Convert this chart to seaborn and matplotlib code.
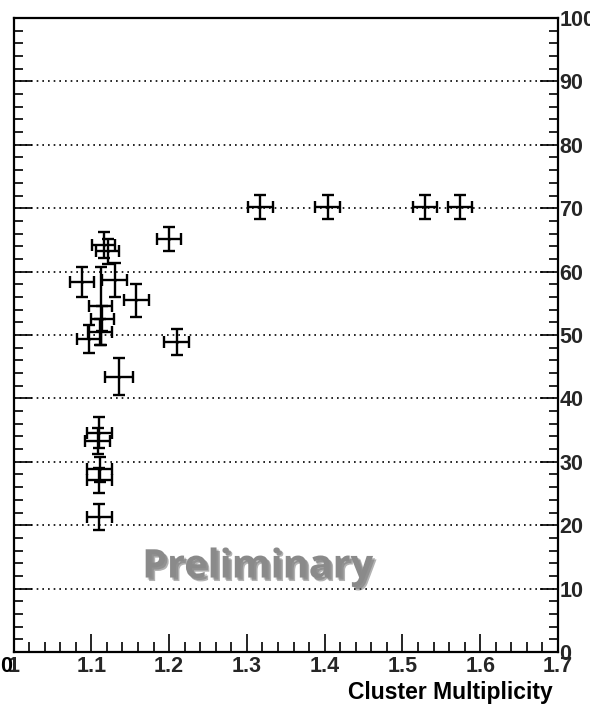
import matplotlib
matplotlib.use("Agg")
import numpy as np
import pandas as pd
import seaborn as sns
import matplotlib.pyplot as plt
import matplotlib.patheffects as pe
from matplotlib.ticker import MultipleLocator, FixedLocator, FixedFormatter

# Measured points: cluster multiplicity vs. value, with symmetric errors
multiplicity = [1.317, 1.404, 1.529, 1.574, 1.200, 1.116, 1.121, 1.088, 1.130,
                1.158, 1.114, 1.112, 1.111, 1.097, 1.210, 1.136, 1.110, 1.108,
                1.111, 1.110, 1.110]
multiplicity_err = [0.016, 0.016, 0.016, 0.016, 0.015, 0.015, 0.015, 0.015, 0.016,
                    0.016, 0.015, 0.015, 0.015, 0.015, 0.016, 0.018, 0.016, 0.016,
                    0.016, 0.016, 0.016]
value = [70.2, 70.2, 70.2, 70.2, 65.1, 64.2, 63.2, 58.4, 58.7,
         55.5, 52.6, 54.6, 50.5, 49.4, 48.9, 43.4, 34.6, 33.3,
         28.8, 27.1, 21.3]
value_err = [1.9, 1.9, 1.9, 1.9, 1.9, 2.0, 2.0, 2.4, 2.7,
             2.6, 2.0, 6.1, 2.0, 2.2, 2.0, 2.9, 2.5, 2.0,
             2.0, 2.0, 2.0]

x_ticks = [1.0, 1.1, 1.2, 1.3, 1.4, 1.5, 1.6, 1.7]
x_tick_labels = ["1", "1.1", "1.2", "1.3", "1.4", "1.5", "1.6", "1.7"]
y_ticks = [0, 10, 20, 30, 40, 50, 60, 70, 80, 90, 100]

df = pd.DataFrame({"mult": multiplicity, "mult_err": multiplicity_err,
                   "val": value, "val_err": value_err})

sns.set_style("white")
plt.rcParams["font.family"] = ["Liberation Sans", "DejaVu Sans"]
plt.rcParams["font.weight"] = "bold"

W, H = 590, 709
fig = plt.figure(figsize=(W / 100, H / 100), dpi=100)
x0, x1 = 13.5, 558.0
y0, y1 = 18.0, 652.0
ax = fig.add_axes([x0 / W, 1 - y1 / H, (x1 - x0) / W, (y1 - y0) / H])

ax.set_xlim(1.0, 1.7)
ax.set_ylim(0, 100)

# dotted horizontal grid
for g in range(10, 100, 10):
    ax.axhline(g, color="black", lw=1.2, linestyle=(0, (1, 2.4)), zorder=1)

ax.errorbar(df["mult"], df["val"], xerr=df["mult_err"], yerr=df["val_err"],
            fmt="none", ecolor="black", elinewidth=1.7, capsize=4,
            capthick=1.7, zorder=3)
sns.scatterplot(data=df, x="mult", y="val", ax=ax, color="black", s=4,
                linewidth=0, zorder=4, legend=False)

# axes frame and ticks
for s in ax.spines.values():
    s.set_color("black")
    s.set_linewidth(1.6)
ax.xaxis.set_major_locator(FixedLocator(x_ticks))
ax.xaxis.set_major_formatter(FixedFormatter(x_tick_labels))
ax.xaxis.set_minor_locator(MultipleLocator(0.02))
ax.yaxis.set_major_locator(FixedLocator(y_ticks))
ax.yaxis.set_minor_locator(MultipleLocator(2))
ax.tick_params(axis="x", which="both", direction="in", bottom=True, top=False,
               width=1.2, color="black", labelsize=15.5, pad=3)
ax.tick_params(axis="x", which="major", length=13)
ax.tick_params(axis="x", which="minor", length=7)
ax.tick_params(axis="y", which="both", direction="in", left=True, right=True,
               labelleft=False, labelright=True, width=1.2, color="black",
               labelsize=15.5, pad=1)
ax.tick_params(axis="y", which="major", length=13)
ax.tick_params(axis="y", which="minor", length=6.5)
for lab in ax.get_xticklabels() + ax.get_yticklabels():
    lab.set_fontweight("bold")
ax.set_xlabel("")
ax.set_ylabel("")

# partially hidden zero at the lower-left corner
fig.text(6 / W, 1 - 667 / H, "0", ha="center", va="center", fontsize=15.5,
         fontweight="bold", color="black", zorder=0)

fig.text(553 / W, 1 - 692 / H, "Cluster Multiplicity", ha="right", va="center",
         fontsize=16.5, fontweight="bold", color="black")

# watermark
shadow = [pe.SimplePatchShadow(offset=(2.5, -2.5), shadow_rgbFace="#555555", alpha=0.45),
          pe.SimplePatchShadow(offset=(1.5, -1.5), shadow_rgbFace="#555555", alpha=0.35),
          pe.Normal()]
ax.text(1.314, 13.4, "Preliminary", ha="center", va="center", fontsize=28.5,
        fontweight="bold", color="#8a8a8a", family=["Open Sans", "DejaVu Sans"],
        path_effects=shadow, zorder=5)

fig.savefig("out.png", dpi=100)
